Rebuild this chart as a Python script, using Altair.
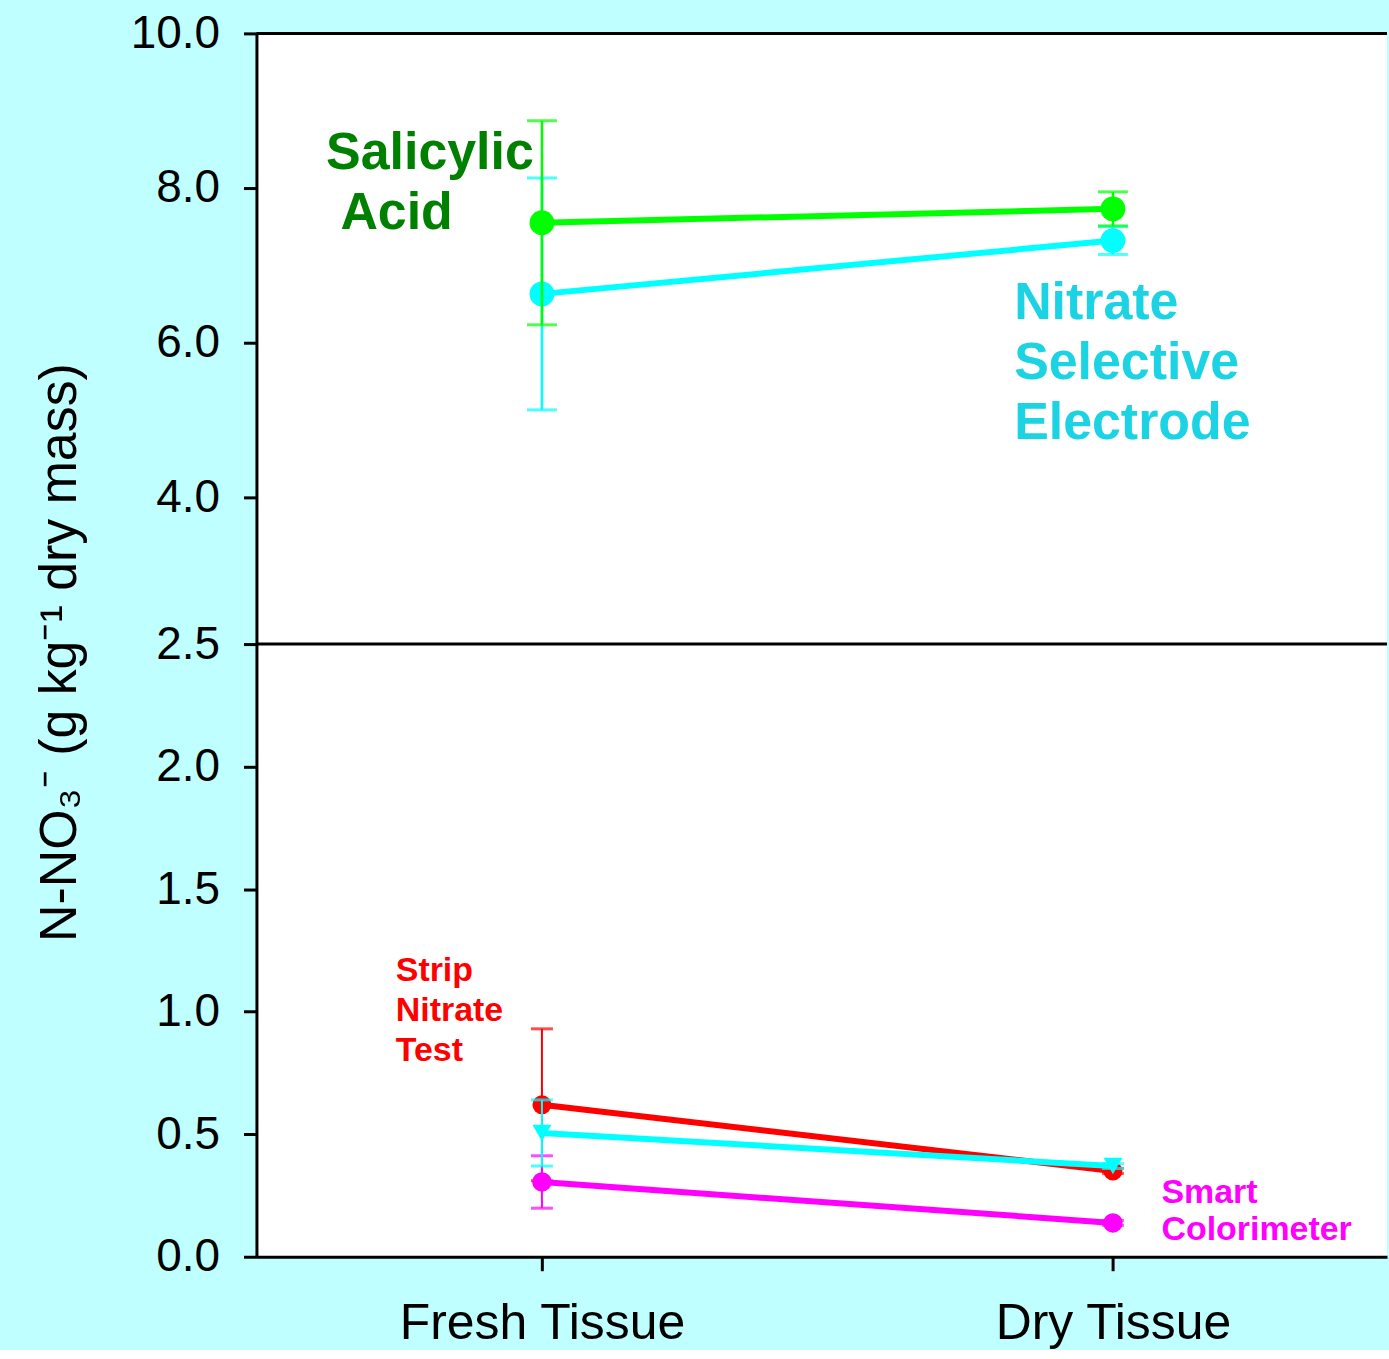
import altair as alt
import pandas as pd

# Sample preparation (x positions 1 and 2)
tissue = ["Fresh Tissue", "Dry Tissue"]
tissue_pos = [1, 2]

# Upper range: high-reading methods (g kg-1), mean and error
salicylic_mean = [7.55, 7.73]
salicylic_err = [1.32, 0.22]
electrode_mean = [6.63, 7.32]
electrode_err = [1.50, 0.18]

# Lower range: low-reading methods
strip_mean = [0.62, 0.35]
strip_err = [0.31, 0.01]
electrode_low_mean = [0.505, 0.37]
electrode_low_err = [0.135, 0.01]
smart_mean = [0.305, 0.138]
smart_err = [0.107, 0.01]

# Series annotations: lines of text and their anchor (x, y) in data units
salicylic_text = ["Salicylic", "Acid"]
salicylic_text_x = [0.622, 0.647]
salicylic_text_y = [8.45, 7.68]
electrode_text = ["Nitrate", "Selective", "Electrode"]
electrode_text_x = [1.827, 1.827, 1.827]
electrode_text_y = [6.51, 5.74, 4.96]
strip_text = ["Strip", "Nitrate", "Test"]
strip_text_x = [0.744, 0.744, 0.744]
strip_text_y = [1.165, 1.002, 0.839]
smart_text = ["Smart", "Colorimeter"]
smart_text_x = [2.085, 2.085]
smart_text_y = [0.262, 0.107]

FONT = "Liberation Sans"
X_MIN, X_MAX = 0.5, 2.48
UP_MIN, UP_MAX = 2.1, 10.0
LOW_MIN, LOW_MAX = 0.0, 2.5
W = 1133


def frame(mean, err):
    return pd.DataFrame({
        "pos": tissue_pos,
        "mean": mean,
        "lo": [m - e for m, e in zip(mean, err)],
        "hi": [m + e for m, e in zip(mean, err)],
    })


def text_frame(lines, xs, ys):
    return pd.DataFrame({"label": lines, "tx": xs, "ty": ys})


x_scale = alt.Scale(domain=[X_MIN, X_MAX], nice=False, zero=False)
lab_expr = "datum.value == 1 ? '%s' : '%s'" % (tissue[0], tissue[1])
x_axis_low = alt.Axis(values=tissue_pos, labelExpr=lab_expr, title=None, grid=False,
                      tickSize=14, tickWidth=3, tickColor="black", domainWidth=3,
                      domainColor="black", labelFontSize=50, labelFont=FONT,
                      labelColor="black", labelPadding=28, labelFlush=False,
                      labelLimit=600, labelOverlap=False)

common_y = dict(grid=False, tickSize=13, tickWidth=3, tickColor="black", domainWidth=3,
                domainColor="black", labelFontSize=46, labelFont=FONT, labelColor="black",
                labelPadding=24, format=".1f")

y_axis_up = alt.Axis(values=[4, 6, 8, 10], title=None, **common_y)
y_axis_low = alt.Axis(values=[0, 0.5, 1.0, 1.5, 2.0, 2.5],
                      title="N-NO\u2083\u207b (g kg\u207b\u00b9 dry mass)",
                      titleFont=FONT, titleFontSize=52, titleFontWeight="normal",
                      titleColor="black", titleX=-170, titleY=8, titleBaseline="bottom",
                      titleAngle=270, titleAlign="center", **common_y)


def series(df, color, shape, size, line_w, cap_w, bar_w, xa, ys, ya):
    X = alt.X("pos:Q", scale=x_scale, axis=xa)

    def Y(f):
        return alt.Y(f, scale=ys, axis=ya)

    base = alt.Chart(df)
    bar = base.mark_rule(color=color, strokeWidth=bar_w).encode(
        x=X, y=Y("lo:Q"), y2="hi:Q")
    cap_lo = base.mark_tick(color=color, size=cap_w, thickness=3, orient="horizontal").encode(
        x=X, y=Y("lo:Q"))
    cap_hi = base.mark_tick(color=color, size=cap_w, thickness=3, orient="horizontal").encode(
        x=X, y=Y("hi:Q"))
    line = base.mark_line(color=color, strokeWidth=line_w).encode(x=X, y=Y("mean:Q"))
    pts = base.mark_point(color=color, fill=color, filled=True, opacity=1, shape=shape,
                          size=size).encode(x=X, y=Y("mean:Q"))
    return [bar, cap_lo, cap_hi, line, pts]


def labels(df, color, size, xa, ys, ya):
    return alt.Chart(df).mark_text(align="left", baseline="middle", font=FONT,
                                   fontWeight="bold", fontSize=size, color=color).encode(
        x=alt.X("tx:Q", scale=x_scale, axis=xa),
        y=alt.Y("ty:Q", scale=ys, axis=ya),
        text="label:N")


up_scale = alt.Scale(domain=[UP_MIN, UP_MAX], nice=False, zero=False)
low_scale = alt.Scale(domain=[LOW_MIN, LOW_MAX], nice=False, zero=False)

# Upper panel
up_layers = []
up_layers += series(frame(electrode_mean, electrode_err), "#00FFFF", "circle", 620, 6, 30, 2.5,
                    None, up_scale, y_axis_up)
up_layers += series(frame(salicylic_mean, salicylic_err), "#00FF00", "circle", 620, 6, 30, 2.5,
                    None, up_scale, y_axis_up)
up_layers.append(labels(text_frame(salicylic_text, salicylic_text_x, salicylic_text_y),
                        "#008000", 52, None, up_scale, y_axis_up))
up_layers.append(labels(text_frame(electrode_text, electrode_text_x, electrode_text_y),
                        "#1CD3E3", 52, None, up_scale, y_axis_up))
top_border = alt.Chart(pd.DataFrame({"a": [0]})).mark_rule(color="black", strokeWidth=3).encode(
    x=alt.X(datum=X_MIN, scale=x_scale, axis=None), x2=alt.X2(datum=X_MAX),
    y=alt.Y(datum=UP_MAX, scale=up_scale, axis=y_axis_up))
up_layers.append(top_border)
upper = alt.layer(*up_layers).properties(width=W, height=612)

# Lower panel
low_layers = []
low_layers += series(frame(strip_mean, strip_err), "#FF0000", "circle", 360, 6, 22, 2,
                     x_axis_low, low_scale, y_axis_low)
low_layers += series(frame(smart_mean, smart_err), "#FF00FF", "circle", 380, 6, 22, 2,
                     x_axis_low, low_scale, y_axis_low)
low_layers += series(frame(electrode_low_mean, electrode_low_err), "#00FFFF", "triangle-down",
                     360, 6, 22, 2, x_axis_low, low_scale, y_axis_low)
low_layers.append(labels(text_frame(strip_text, strip_text_x, strip_text_y),
                         "#FF0000", 34, x_axis_low, low_scale, y_axis_low))
low_layers.append(labels(text_frame(smart_text, smart_text_x, smart_text_y),
                         "#FF00FF", 34, x_axis_low, low_scale, y_axis_low))
break_line = alt.Chart(pd.DataFrame({"a": [0]})).mark_rule(color="black", strokeWidth=3).encode(
    x=alt.X(datum=X_MIN, scale=x_scale, axis=x_axis_low), x2=alt.X2(datum=X_MAX),
    y=alt.Y(datum=LOW_MAX, scale=low_scale, axis=y_axis_low))
low_layers.append(break_line)
lower = alt.layer(*low_layers).properties(width=W, height=614)

chart = alt.vconcat(upper, lower, spacing=0, bounds="flush").properties(
    background="#C0FFFF",
    padding={"left": 33, "top": 9, "right": 0, "bottom": 0},
).configure_view(stroke=None, fill="white")

chart.save("out.html", embed_options={"renderer": "svg", "actions": False})
